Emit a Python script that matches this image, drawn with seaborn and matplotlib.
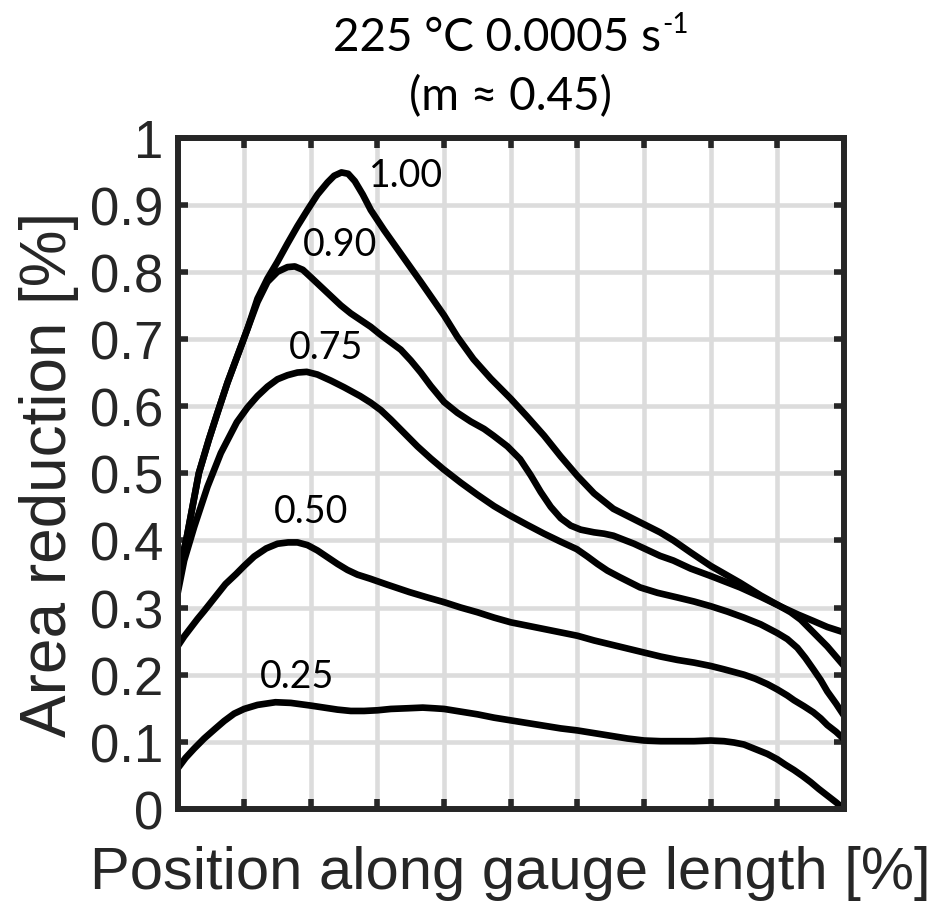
import numpy as np
import pandas as pd
import matplotlib
matplotlib.use("Agg")
import matplotlib.pyplot as plt
import seaborn as sns

# ---- data ----
x_100 = [0, 1.3, 3.2, 4.7, 6, 7.5, 9, 10.5, 12, 13.5, 15, 16.5, 18, 19.5, 21, 22.5, 23.5, 24.6, 25.6,
         26.6, 27.8, 29, 31, 33, 36.5, 40, 42, 44.4, 47, 50, 52.5, 55, 57.5, 60, 62.5, 65.4, 69.4, 72.4,
         74.4, 77, 80, 84.4, 87.5, 90.4, 93, 95.4, 97.5, 100]
y_100 = [0.35, 0.40, 0.50, 0.55, 0.59, 0.635, 0.675, 0.715, 0.76, 0.79, 0.815, 0.842, 0.868, 0.892,
         0.915, 0.933, 0.943, 0.948, 0.946, 0.935, 0.915, 0.892, 0.862, 0.834, 0.785, 0.735, 0.703,
         0.670, 0.641, 0.611, 0.584, 0.556, 0.525, 0.496, 0.47, 0.447, 0.427, 0.412, 0.400, 0.382,
         0.362, 0.337, 0.318, 0.302, 0.29, 0.280, 0.271, 0.263]

x_090 = [0, 1.3, 3.2, 4.7, 6, 7.5, 9, 10.5, 12, 13.5, 15, 16.5, 17.6, 18.8, 20, 21.5, 23, 24.5, 26,
         27.5, 29, 30.5, 32, 33.5, 35, 36.5, 38, 40, 42, 44, 46, 47.4, 49.5, 51.4, 53, 54.5, 56, 57.5,
         59, 60.5, 62.5, 64, 65.4, 68.5, 72.4, 74.4, 77, 80, 84.4, 87.5, 90.4, 92, 93.5, 95.4, 97.5, 100]
y_090 = [0.34, 0.40, 0.50, 0.55, 0.59, 0.635, 0.675, 0.715, 0.755, 0.785, 0.80, 0.807, 0.808, 0.803,
         0.792, 0.778, 0.764, 0.75, 0.738, 0.728, 0.718, 0.706, 0.695, 0.684, 0.668, 0.65, 0.63, 0.606,
         0.59, 0.577, 0.566, 0.556, 0.54, 0.521, 0.497, 0.472, 0.450, 0.433, 0.422, 0.416, 0.412, 0.41,
         0.407, 0.395, 0.377, 0.370, 0.358, 0.347, 0.330, 0.316, 0.302, 0.293, 0.282, 0.263, 0.242, 0.213]

x_075 = [0, 1, 2.5, 4.5, 6.5, 8.9, 10.5, 12, 13.5, 15, 16.5, 18, 19.4, 21, 23, 25, 27.4, 29, 30.5, 32,
         34, 36, 38, 39.9, 42.5, 45, 47.5, 49.9, 52.5, 55, 57.5, 59.9, 61.5, 63, 64.5, 66.4, 68, 69.4,
         72, 75, 77.5, 80, 82.5, 85, 87.5, 90, 91.5, 93, 94.2, 95.4, 96.5, 97.5, 98.8, 100]
y_075 = [0.32, 0.37, 0.42, 0.48, 0.53, 0.576, 0.598, 0.615, 0.629, 0.640, 0.646, 0.650, 0.651, 0.647,
         0.638, 0.628, 0.615, 0.605, 0.594, 0.58, 0.56, 0.54, 0.522, 0.506, 0.486, 0.468, 0.451, 0.437,
         0.423, 0.41, 0.398, 0.387, 0.376, 0.365, 0.355, 0.345, 0.337, 0.330, 0.322, 0.315, 0.309,
         0.302, 0.294, 0.285, 0.275, 0.262, 0.253, 0.24, 0.225, 0.208, 0.192, 0.175, 0.157, 0.139]

x_050 = [0, 1, 2, 3, 4, 5.6, 7.2, 8.8, 10, 11.5, 13.3, 15, 16.6, 18, 19.5, 21, 22.5, 24, 25.5, 27,
         28.9, 31.5, 34.8, 37.5, 40, 42.5, 45, 47.5, 50, 52.5, 55, 57.5, 60, 62.5, 65, 67.5, 70, 72.5,
         75, 77.5, 80, 82, 83.5, 85, 86.7, 88.5, 90, 91.5, 92.5, 94, 95.4, 96.5, 97.5, 98.8, 100]
y_050 = [0.242, 0.257, 0.27, 0.283, 0.295, 0.315, 0.335, 0.35, 0.362, 0.376, 0.388, 0.395, 0.397,
         0.397, 0.393, 0.385, 0.375, 0.365, 0.356, 0.349, 0.343, 0.334, 0.323, 0.315, 0.308, 0.3, 0.293,
         0.285, 0.278, 0.273, 0.268, 0.263, 0.258, 0.251, 0.245, 0.239, 0.233, 0.227, 0.222, 0.218,
         0.213, 0.208, 0.204, 0.2, 0.194, 0.186, 0.178, 0.169, 0.162, 0.153, 0.144, 0.135, 0.125,
         0.115, 0.104]

x_025 = [0, 1.2, 2.5, 4, 5.6, 7, 8.5, 10, 12, 14.7, 17, 20, 22, 24, 26, 28, 30, 32, 34.5, 36.8, 38.5,
         40, 42.5, 45, 47.5, 50, 52.5, 55, 57.5, 60, 62.5, 65, 67.5, 70, 72.5, 75, 77.5, 80, 82, 83.5,
         85, 87, 88.5, 90, 91.2, 92.5, 93.8, 95, 96.2, 97.5, 98.8, 100]
y_025 = [0.060, 0.076, 0.09, 0.105, 0.119, 0.131, 0.142, 0.149, 0.155, 0.159, 0.158, 0.154, 0.151,
         0.148, 0.146, 0.146, 0.147, 0.149, 0.150, 0.151, 0.150, 0.149, 0.145, 0.141, 0.136, 0.132,
         0.128, 0.124, 0.120, 0.117, 0.113, 0.109, 0.105, 0.102, 0.101, 0.101, 0.101, 0.102, 0.101,
         0.099, 0.096, 0.088, 0.082, 0.074, 0.066, 0.058, 0.049, 0.040, 0.030, 0.020, 0.010, 0.0]

series_labels = ["1.00", "0.90", "0.75", "0.50", "0.25"]
x_ticks = [0, 10, 20, 30, 40, 50, 60, 70, 80, 90, 100]
y_ticks = [0, 0.1, 0.2, 0.3, 0.4, 0.5, 0.6, 0.7, 0.8, 0.9, 1]
y_tick_labels = ["0", "0.1", "0.2", "0.3", "0.4", "0.5", "0.6", "0.7", "0.8", "0.9", "1"]

# label anchor positions (layout)
label_pos = [(34.3, 0.944), (24.4, 0.841), (22.3, 0.688), (20.0, 0.444), (17.9, 0.198)]

frames = []
for lab, xs, ys in zip(series_labels,
                       [x_100, x_090, x_075, x_050, x_025],
                       [y_100, y_090, y_075, y_050, y_025]):
    frames.append(pd.DataFrame({"pos": xs, "ar": ys, "series": lab}))
df = pd.concat(frames, ignore_index=True)

sns.set_theme(style="white")
plt.rcParams["font.family"] = ["Liberation Sans", "DejaVu Sans"]

fig = plt.figure(figsize=(9.3, 9.04), dpi=100)
ax = fig.add_axes([177.5 / 930, 94 / 904, (844 - 177.5) / 930, (810 - 138.5) / 904])

sns.lineplot(data=df, x="pos", y="ar", hue="series", units="series", estimator=None, sort=False,
             palette=["black"] * 5, linewidth=4.8, legend=False, ax=ax, zorder=3)
for ln in ax.lines:
    ln.set_solid_joinstyle("round")
    ln.set_solid_capstyle("butt")

ax.set_xlim(0, 100)
ax.set_ylim(0, 1)
ax.set_xticks(x_ticks)
ax.set_xticklabels([])
ax.set_yticks(y_ticks)
ax.set_yticklabels(y_tick_labels)
ax.grid(True, color="#dcdcdc", linewidth=3.3, zorder=0)
ax.set_axisbelow(True)

for sp in ax.spines.values():
    sp.set_visible(True)
    sp.set_color("#262626")
    sp.set_linewidth(4.3)
    sp.set_zorder(5)

ax.tick_params(axis="both", which="major", direction="in", length=7, width=4.0, color="#262626",
               top=True, right=True, bottom=True, left=True, labelsize=38, labelcolor="#262626", pad=10)

ax.set_xlabel("Position along gauge length [%]", fontsize=43, color="#262626", labelpad=16)
ax.set_ylabel("Area reduction [%]", fontsize=46, color="#262626", labelpad=8)

for lab, (px, py) in zip(series_labels, label_pos):
    ax.text(px, py, lab, fontsize=27, family=["Lato", "DejaVu Sans"], ha="center", va="center",
            color="black", zorder=6)

# title: main part plus a small superscript "-1", centred together over the axes
title_fam = ["Lato", "DejaVu Sans"]
t_main = fig.text(0, 1 - 38 / 904, "225 °C 0.0005 s", fontsize=33, family=title_fam,
                  ha="left", va="center", color="black")
t_sup = fig.text(0, 1 - 25 / 904, "-1", fontsize=20, family=title_fam,
                 ha="left", va="center", color="black")
fig.canvas.draw()
r = fig.canvas.get_renderer()
w_main = t_main.get_window_extent(r).width
w_sup = t_sup.get_window_extent(r).width
total = w_main + 2 + w_sup
x0 = 510.8 - total / 2
t_main.set_x(x0 / 930)
t_sup.set_x((x0 + w_main + 2) / 930)

fig.text(510.8 / 930, 1 - 97 / 904, "(m ≈ 0.45)", fontsize=33, family=title_fam,
         ha="center", va="center", color="black")

fig.savefig("out.png", dpi=100)
